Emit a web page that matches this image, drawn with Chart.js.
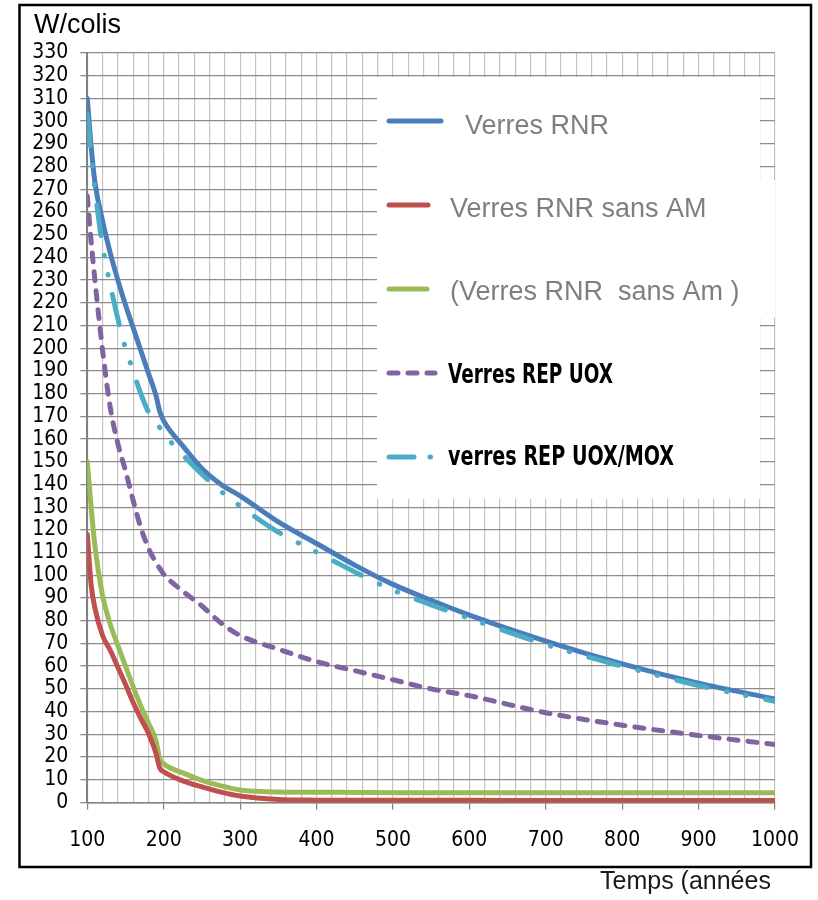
<!DOCTYPE html>
<html>
<head>
<meta charset="utf-8">
<script src="https://cdn.jsdelivr.net/npm/chart.js@4.4.0/dist/chart.umd.min.js"></script>
<style>
  html, body { margin: 0; padding: 0; background: #fff; }
  canvas { display: block; }
</style>
</head>
<body>
<canvas id="chart" width="818" height="900"></canvas>
<script>
// values (W/colis vs years)
const years = [100, 105, 110, 120, 130, 140, 150, 160, 170, 180, 190, 195, 200, 225, 250, 275, 300, 350, 400, 450, 500, 550, 600, 700, 800, 900, 1000];
const verresRNR = [310, 289, 273, 256, 242, 230, 219, 209, 199, 189, 179, 172, 168, 157, 147, 140, 135, 123.5, 114, 104.5, 96, 89, 82.5, 71, 61, 52.5, 45.5];
const verresRNRsansAM = [118, 96, 85.5, 73.5, 67, 59.5, 52, 44, 37, 30.5, 21.5, 15, 13.5, 9.5, 6.8, 4.5, 2.8, 1.3, 1, 0.9, 0.9, 0.9, 0.9, 0.8, 0.8, 0.8, 0.8];
const verresRNRsansAm = [150, 130, 113, 91, 78.5, 69, 60, 51, 42.5, 35, 27, 19, 17, 13, 9.7, 7.3, 5.5, 4.6, 4.5, 4.4, 4.3, 4.3, 4.3, 4.3, 4.3, 4.3, 4.3];
const verresREPUOX = [267, 247, 230, 199, 174, 158, 146, 133, 121, 112, 105.5, 103, 100.5, 93, 86.5, 79, 73.5, 67.5, 62, 58, 54, 50, 47, 39.5, 34, 29.5, 25.5];
const verresREPUOXMOX = [303, 285, 270, 245, 228, 213, 200, 190, 180, 172, 167.5, 165, 162.5, 153, 144.5, 137, 130.5, 119, 110.2, 101.5, 93.5, 87, 81, 69.5, 60, 51.5, 44.5];

const seriesLabels = ['Verres RNR', 'Verres RNR sans AM', '(Verres RNR  sans Am )', 'Verres REP UOX', 'verres REP UOX/MOX'];
const yTitle = 'W/colis';
const xTitle = 'Temps (années';

const NARROW = '"Liberation Sans Narrow", "Arial Narrow", "DejaVu Sans Condensed", sans-serif';
const SANS = '"Liberation Sans", Arial, sans-serif';

const toPoints = vals => years.map((x, i) => ({ x: x, y: vals[i] }));

// white page + outer frame + axis titles
const framePlugin = {
    id: 'frame',
    beforeDraw(chart) {
        const ctx = chart.ctx;
        ctx.save();
        ctx.fillStyle = '#fff';
        ctx.fillRect(0, 0, chart.width, chart.height);
        ctx.restore();
    },
    afterDraw(chart) {
        const ctx = chart.ctx;
        ctx.save();
        ctx.strokeStyle = '#000';
        ctx.lineWidth = 2.5;
        ctx.strokeRect(19.5, 5, 791.5, 862);
        ctx.fillStyle = '#000';
        ctx.font = '27px ' + SANS;
        ctx.textBaseline = 'alphabetic';
        ctx.fillText(yTitle, 34, 33);
        ctx.fillStyle = '#1a1a1a';
        ctx.font = '25px ' + SANS;
        ctx.fillText(xTitle, 600, 889);
        ctx.restore();
    }
};

// legend box sitting inside the plot, like the excel one
const legendPlugin = {
    id: 'boxLegend',
    afterDatasetsDraw(chart) {
        const ctx = chart.ctx;
        const rows = [
            { y: 121, x2: 441, tx: 465, ty: 134, font: '27px ' + SANS, color: '#7f7f7f', w: 0 },
            { y: 205, x2: 428, tx: 450, ty: 217, font: '27px ' + SANS, color: '#7f7f7f', w: 0 },
            { y: 289, x2: 427, tx: 450, ty: 300, font: '27px ' + SANS, color: '#7f7f7f', w: 0 },
            { y: 373, x2: 435, tx: 448, ty: 383, font: 'bold 26px ' + NARROW, color: '#000', w: 165 },
            { y: 457, x2: 444, tx: 448, ty: 465, font: 'bold 26px ' + NARROW, color: '#000', w: 226 }
        ];
        ctx.save();
        ctx.fillStyle = '#fff';
        ctx.fillRect(377, 77, 383, 422);
        ctx.fillRect(759, 180, 16, 137);
        chart.data.datasets.forEach((ds, i) => {
            const r = rows[i];
            ctx.strokeStyle = ds.borderColor;
            ctx.lineWidth = ds.borderWidth;
            ctx.lineCap = 'round';
            ctx.setLineDash(ds.borderDash ? [ds.borderDash[0] - 6, 16, 0.5, 40] : []);
            if (i === 3) ctx.setLineDash(ds.borderDash);
            ctx.beginPath();
            ctx.moveTo(389, r.y);
            ctx.lineTo(r.x2, r.y);
            ctx.stroke();
            ctx.setLineDash([]);
            ctx.fillStyle = r.color;
            ctx.font = r.font;
            if (r.w) ctx.fillText(ds.label, r.tx, r.ty, r.w);
            else ctx.fillText(ds.label, r.tx, r.ty);
        });
        ctx.restore();
    }
};

const ctx = document.getElementById('chart').getContext('2d');
new Chart(ctx, {
    type: 'line',
    data: {
        datasets: [
            {
                label: seriesLabels[0],
                data: toPoints(verresRNR),
                borderColor: '#4a7ebb',
                borderWidth: 5,
                order: 4
            },
            {
                label: seriesLabels[1],
                data: toPoints(verresRNRsansAM),
                borderColor: '#c0504d',
                borderWidth: 5,
                order: 2
            },
            {
                label: seriesLabels[2],
                data: toPoints(verresRNRsansAm),
                borderColor: '#9bbb59',
                borderWidth: 5,
                order: 3
            },
            {
                label: seriesLabels[3],
                data: toPoints(verresREPUOX),
                borderColor: '#8064a2',
                borderWidth: 5,
                borderDash: [9, 10],
                order: 1
            },
            {
                label: seriesLabels[4],
                data: toPoints(verresREPUOXMOX),
                borderColor: '#4bacc6',
                borderWidth: 5,
                borderDash: [31, 20, 0.5, 19, 0.5, 20],
                order: 0
            }
        ]
    },
    options: {
        responsive: false,
        devicePixelRatio: 1,
        animation: false,
        layout: { padding: { left: 0, top: 53, right: 41, bottom: 0 } },
        plugins: {
            legend: { display: false },
            tooltip: { enabled: false }
        },
        elements: {
            point: { radius: 0 },
            line: { cubicInterpolationMode: 'monotone', borderCapStyle: 'round', borderJoinStyle: 'round', fill: false }
        },
        scales: {
            x: {
                type: 'linear',
                min: 100,
                max: 1000,
                afterFit(axis) { axis.height = 97.6; },
                ticks: {
                    stepSize: 20,
                    autoSkip: false,
                    maxRotation: 0,
                    padding: 19,
                    color: '#000',
                    font: { family: NARROW, size: 21 },
                    callback: v => (v % 100 === 0 ? String(v) : '')
                },
                grid: {
                    color: '#c4c4c4',
                    lineWidth: 1.2,
                    tickLength: 7,
                    tickColor: c => (c.tick && c.tick.value % 100 === 0 ? '#808080' : 'rgba(0,0,0,0)')
                },
                border: { color: '#808080', width: 1.5 }
            },
            y: {
                min: 0,
                max: 330,
                afterFit(axis) { axis.width = 87.3; },
                ticks: {
                    stepSize: 10,
                    autoSkip: false,
                    padding: 12,
                    color: '#000',
                    font: { family: NARROW, size: 21 }
                },
                grid: { color: '#8c8c8c', lineWidth: 1.3, tickLength: 7 },
                border: { color: '#808080', width: 2 }
            }
        }
    },
    plugins: [framePlugin, legendPlugin]
});
</script>
</body>
</html>
